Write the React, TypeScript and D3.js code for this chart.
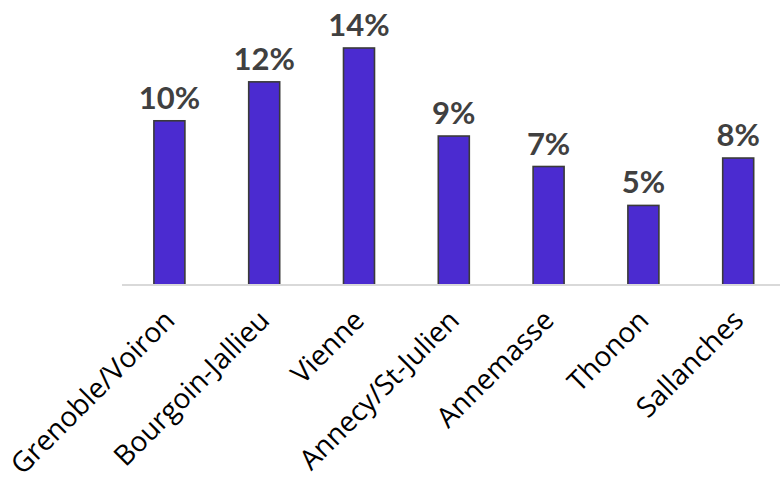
import React from "react";
import * as d3 from "d3";

const categories = ["Grenoble/Voiron", "Bourgoin-Jallieu", "Vienne", "Annecy/St-Julien", "Annemasse", "Thonon", "Sallanches"];
const values = [9.7, 12.0, 14.0, 8.8, 7.0, 4.7, 7.5];
const valueLabels = ["10%", "12%", "14%", "9%", "7%", "5%", "8%"];

const W = 780;
const H = 484;
const baseY = 285;

export default function App() {
  const x = d3.scaleBand<string>().domain(categories).range([122, 785.6]).paddingInner(0.673).paddingOuter(0.3365);
  const y = d3.scaleLinear().domain([0, 14]).range([baseY, 48]);
  const font = "Lato, 'Open Sans', sans-serif";
  return (
    <svg width={W} height={H} style={{ position: "absolute", left: 0, top: 0, background: "#fff" }}>
      {categories.map((c, i) => {
        const bx = x(c)!;
        const bw = x.bandwidth();
        const top = y(values[i]);
        return (
          <g key={c}>
            <rect x={bx} y={top} width={bw} height={baseY - top} fill="#4B2BD0" stroke="#3a3a3a" strokeWidth={1.6} />
            <text x={bx + bw / 2} y={top - 12} textAnchor="middle" fontFamily={font} fontWeight={700} fontSize={31} fill="#404040">
              {valueLabels[i]}
            </text>
          </g>
        );
      })}
      <line x1={122} x2={780} y1={baseY} y2={baseY} stroke="#d9d9d9" strokeWidth={2} />
      {categories.map((c) => {
        const cx = x(c)! + x.bandwidth() / 2;
        return (
          <text key={c} transform={`translate(${cx + 7},${322}) rotate(-45)`} textAnchor="end" fontFamily="'Open Sans', sans-serif" fontSize={28} fill="#000">
            {c}
          </text>
        );
      })}
    </svg>
  );
}
